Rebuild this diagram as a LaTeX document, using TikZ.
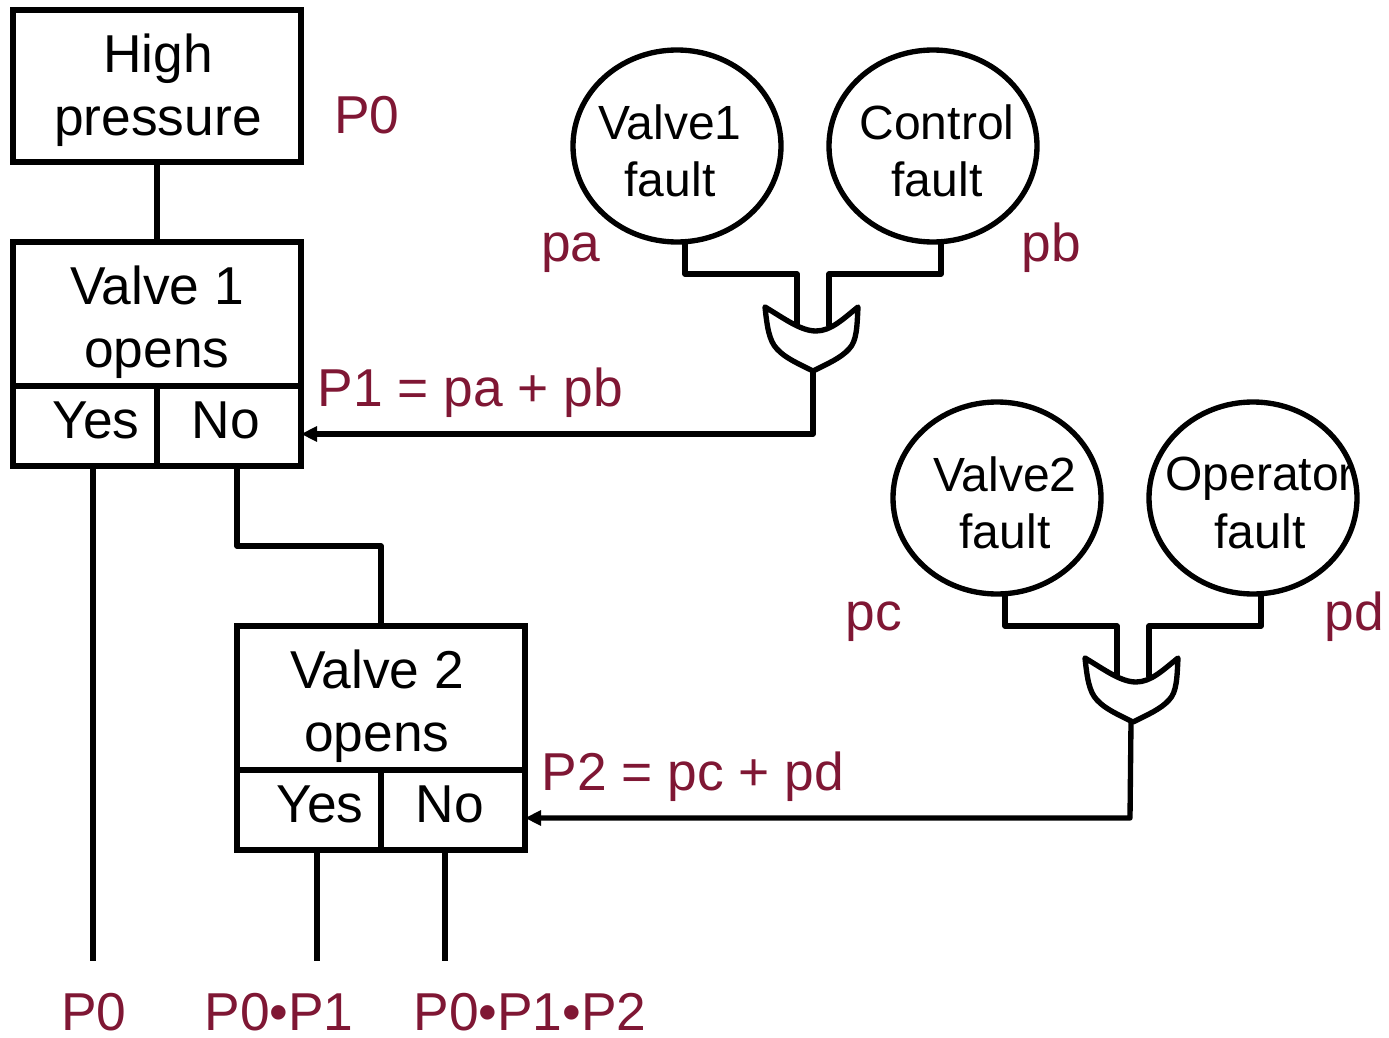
\documentclass[tikz,border=0pt]{standalone}
\usepackage{fontspec}
\setmainfont{Liberation Sans}
\usetikzlibrary{calc,arrows.meta,shapes.geometric}
\definecolor{wine}{HTML}{7F1734}
\newcommand{\bigtxt}{\fontsize{40}{47.5}\selectfont}
\newcommand{\midtxt}{\fontsize{36}{43}\selectfont}
\tikzset{
  px/.style={x=0.75pt,y=-0.75pt},
  box/.style={draw=black,line width=3.8pt,rectangle,inner sep=0pt,outer sep=0pt,minimum width=#1*0.75pt},
  bw/.style={minimum height=#1*0.75pt},
  blk/.style={font=\bigtxt,align=center,inner sep=0pt,text=black},
  fault/.style={draw=black,line width=4pt,ellipse,inner sep=0pt,outer sep=0pt,minimum width=208*0.75pt,minimum height=192*0.75pt,fill=white},
  ftxt/.style={font=\midtxt,align=center,inner sep=0pt,text=black},
  red/.style={font=\bigtxt,text=wine,inner sep=0pt,anchor=base},
  wire/.style={draw=black,line width=4pt,line join=round},
  gatebody/.style={draw=black,line width=4pt,fill=white,line join=round},
  sig/.style={wire,{Stealth[length=12pt,width=11pt,inset=0pt]}-}
}
\newcommand{\orgate}[1]{%
  \draw[gatebody] ($(#1)+(-48,-64)$) .. controls ($(#1)+(-28,-52)$) and ($(#1)+(-12,-40)$) .. ($(#1)+(3,-40)$)
    .. controls ($(#1)+(18,-40)$) and ($(#1)+(30,-52)$) .. ($(#1)+(45,-64)$)
    .. controls ($(#1)+(44,-45)$) and ($(#1)+(44,-30)$) .. ($(#1)+(36,-22)$)
    .. controls ($(#1)+(28,-13)$) and ($(#1)+(14,-7)$) .. (#1)
    .. controls ($(#1)+(-14,-7)$) and ($(#1)+(-28,-13)$) .. ($(#1)+(-36,-22)$)
    .. controls ($(#1)+(-44,-30)$) and ($(#1)+(-46,-45)$) .. cycle;}
\begin{document}
\begin{tikzpicture}[px]
\useasboundingbox (0,0) rectangle (1389,1038);
% decision boxes
\node[box=288,bw=152] (hp) at (157,86) {};
\node[blk] (hpt) at (158,90) {High\\pressure};
\node[box=288,bw=144] (vo) at (157,314) {};
\node[blk] (vot) at (157,322) {Valve 1\\opens};
\node[box=144,bw=80] (y1) at (85,426) {};
\node[box=144,bw=80] (n1) at (229,426) {};
\node[blk,anchor=base] (y1t) at (96,438) {Yes};
\node[blk,anchor=base] (n1t) at (226,438) {No};
\node[box=288,bw=144] (vt) at (381,698) {};
\node[blk] (vtt) at (377,706) {Valve 2\\opens};
\node[box=144,bw=80] (y2) at (309,810) {};
\node[box=144,bw=80] (n2) at (453,810) {};
\node[blk,anchor=base] (y2t) at (320,822) {Yes};
\node[blk,anchor=base] (n2t) at (450,822) {No};
% free ends
\coordinate (e1) at (93,961);
\coordinate (e2) at (317,961);
\coordinate (e3) at (445,961);
\coordinate (b1) at (237,546);
\coordinate (g1) at (813,371);
\coordinate (gb) at (1133,722);
\coordinate (g2) at (1131,722);
\coordinate (a1) at (813,434);
\coordinate (a2) at (1130,818);
% connectors
\draw[wire] (hp.south) -- (vo.north);
\draw[wire] (e1 |- y1.south) -- (e1);
\draw[wire] (e2 |- y2.south) -- (e2);
\draw[wire] (e3 |- n2.south) -- (e3);
\draw[wire] (b1 |- n1.south) -- (b1) -| (vt.north);
% fault circles
\node[fault] (c1) at (677,146) {};
\node[fault] (c2) at (933,146) {};
\node[fault] (c3) at (997,498) {};
\node[fault] (c4) at (1253,498) {};
\node[ftxt] (c1t) at (670,151) {Valve1\\fault};
\node[ftxt] (c2t) at (937,151) {Control\\fault};
\node[ftxt] (c3t) at (1005,503) {Valve2\\fault};
\node[ftxt] (c4t) at (1260,503) {Operator\\fault};
% gate inputs
\draw[wire] ($(c1.south)+(8,0)$) |- ($(g1)+(-16,-97)$) -- ($(g1)+(-16,-45)$);
\draw[wire] ($(c2.south)+(8,0)$) |- ($(g1)+(16,-97)$) -- ($(g1)+(16,-45)$);
\draw[wire] ($(c3.south)+(8,0)$) |- ($(gb)+(-16,-96)$) -- ($(gb)+(-16,-45)$);
\draw[wire] ($(c4.south)+(8,0)$) |- ($(gb)+(16,-96)$) -- ($(gb)+(16,-45)$);
\orgate{g1}
\orgate{gb}
% gate outputs
\draw[sig] (n1.east |- a1) -- (a1) -- (g1);
\draw[sig] (n2.east |- a2) -- (a2) -- (g2);
% probabilities
\node[red] (p0) at (367,134) {P0};
\node[red] (pa) at (571,262) {pa};
\node[red] (pb) at (1051,262) {pb};
\node[red] (p1) at (470.5,406) {P1 = pa + pb};
\node[red] (pc) at (874,630) {pc};
\node[red] (pd) at (1354.5,630) {pd};
\node[red] (p2) at (693,790) {P2 = pc + pd};
\node[red] (o1) at (94,1030) {P0};
\node[red] (o2) at (279,1030) {P0•P1};
\node[red] (o3) at (530,1030) {P0•P1•P2};
\end{tikzpicture}
\end{document}
